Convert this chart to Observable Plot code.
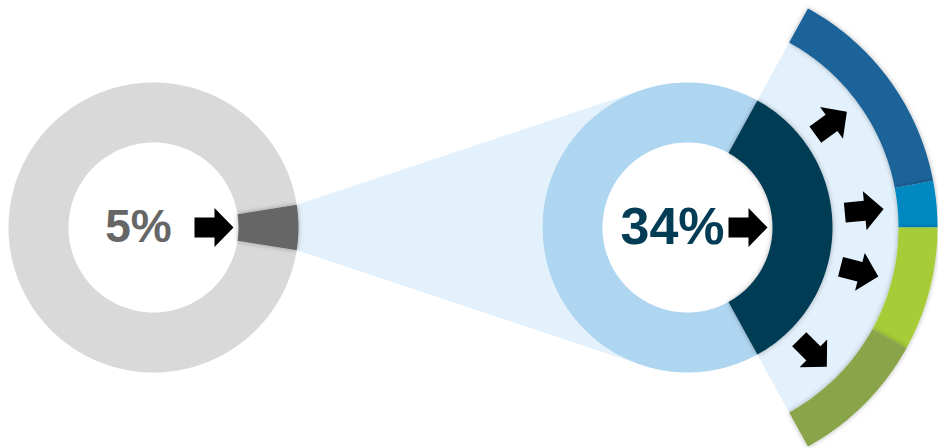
<!DOCTYPE html>
<html>
<head>
<meta charset="utf-8">
<script src="https://cdn.jsdelivr.net/npm/d3@7"></script>
<script src="https://cdn.jsdelivr.net/npm/@observablehq/plot@0.6"></script>
<style>
  html, body { margin: 0; padding: 0; background: #ffffff; }
  #chart svg { display: block; }
</style>
</head>
<body>
<div id="chart"></div>
<script>
// ---- data ----
const donutNames = ["All", "Subset"];
const donutShares = [5, 34];          // percent highlighted in each donut
const donutLabels = ["5%", "34%"];
const breakdownShares = [14, 3, 8, 9]; // split of the 34% highlighted share

// ---- styles / layout (not data) ----
const W = 938, H = 448;
const centers = [{cx: 153, cy: 227}, {cx: 687, cy: 227}];
const rIn = 85, rOut = 145, ringIn = 211, ringOut = 250;
const arrowR = 61, ringArrowR = 178;
const ringColors = ["#1A639A", "#0088C1", "#A6CD39", "#8AA44A"];
const baseColors = ["#D9D9D9", "#AFD6F1"];
const sliceColors = ["#666666", "#033C55"];
const labelColors = ["#666666", "#033C55"];
const labelSizes = [46, 52];
const fanColor = "#E3F1FC";

const rad = Math.PI / 180;
function pt(c, r, a) { return {x: c.cx + r * Math.cos(a * rad), y: c.cy - r * Math.sin(a * rad)}; }
function sector(c, r0, r1, a0, a1) {
  const pts = [];
  const n = Math.max(2, Math.ceil(Math.abs(a1 - a0)));
  for (let i = 0; i <= n; i++) pts.push(pt(c, r1, a0 + (a1 - a0) * i / n));
  for (let i = n; i >= 0; i--) pts.push(pt(c, r0, a0 + (a1 - a0) * i / n));
  return pts;
}
function arrow(ax, ay, theta) {
  const shape = [[-20, -10], [0, -10], [0, -19.5], [19, 0], [0, 19.5], [0, 10], [-20, 10]];
  const c = Math.cos(theta * rad), s = Math.sin(theta * rad);
  return shape.map(([lx, ly]) => ({x: ax + lx * c - ly * s, y: ay - (lx * s + ly * c)}));
}

const shapes = []; // {pts, fill, shadow}
const half = donutShares.map(p => p / 100 * 180);

// fan connecting left slice to right donut (tangent lines)
{
  const L = centers[0], R = centers[1];
  const pTop = pt(L, rOut, half[0]), pBot = pt(L, rOut, -half[0]);
  function tangent(P, sign) {
    const vx = R.cx - P.x, vy = R.cy - P.y, d = Math.hypot(vx, vy);
    const beta = Math.asin(rOut / d);
    const phi = Math.atan2(vy, vx) + sign * beta;
    const len = Math.sqrt(d * d - rOut * rOut);
    const T = {x: P.x + len * Math.cos(phi), y: P.y + len * Math.sin(phi)};
    return {T, ang: Math.atan2(-(T.y - R.cy), T.x - R.cx) / rad};
  }
  const top = tangent(pTop, -1), bot = tangent(pBot, 1);
  let aT = top.ang, aB = bot.ang;
  while (aB < aT) aB += 360;
  const pts = [pTop, top.T];
  for (let a = aT; a <= aB; a += 1) pts.push(pt(R, rOut, a));
  pts.push(bot.T, pBot);
  shapes.push({pts, fill: fanColor, shadow: false});
}
// wedge behind the breakdown ring
shapes.push({pts: sector(centers[1], rOut, ringIn, -half[1], half[1]), fill: fanColor, shadow: false});

// donuts
donutShares.forEach((p, i) => {
  const c = centers[i];
  shapes.push({pts: sector(c, rIn, rOut, half[i], 360 - half[i]), fill: baseColors[i], shadow: false});
  shapes.push({pts: sector(c, rIn, rOut, -half[i], half[i]), fill: sliceColors[i], shadow: true});
});

// breakdown ring
const total = d3.sum(breakdownShares);
let acc = half[1];
const mids = [];
breakdownShares.forEach((v, i) => {
  const span = v / total * 2 * half[1];
  shapes.push({pts: sector(centers[1], ringIn, ringOut, acc - span, acc), fill: ringColors[i], shadow: true});
  mids.push(acc - span / 2);
  acc -= span;
});

// arrows
const arrows = [];
donutShares.forEach((p, i) => arrows.push(arrow(centers[i].cx + arrowR, centers[i].cy, 0)));
mids.forEach(a => { const q = pt(centers[1], ringArrowR, a); arrows.push(arrow(q.x, q.y, a)); });

const marks = [];
shapes.forEach(s => marks.push(Plot.line(s.pts, {x: "x", y: "y", fill: s.fill, stroke: "none", ariaDescription: s.shadow ? "shadowed" : "flat"})));
arrows.forEach(a => marks.push(Plot.line(a, {x: "x", y: "y", fill: "#000000", stroke: "none"})));
donutLabels.forEach((t, i) => {
  marks.push(Plot.text([{x: centers[i].cx - 15, y: centers[i].cy, t}], {
    x: "x", y: "y", text: "t", fill: labelColors[i], fontSize: labelSizes[i], fontWeight: "bold",
    fontFamily: "Liberation Sans, Arial, sans-serif", textAnchor: "middle", lineAnchor: "middle"
  }));
});

const svg = Plot.plot({
  width: W, height: H, margin: 0,
  x: {domain: [0, W], range: [0, W], axis: null},
  y: {domain: [0, H], range: [0, H], axis: null},
  marks
});
const sel = d3.select(svg);
const defs = sel.insert("defs", ":first-child");
const f = defs.append("filter").attr("id", "softshadow").attr("x", "-20%").attr("y", "-20%").attr("width", "140%").attr("height", "140%");
f.append("feDropShadow").attr("dx", 0).attr("dy", 0).attr("stdDeviation", 2.5).attr("flood-color", "#000").attr("flood-opacity", 0.3);
sel.selectAll('g[aria-description="shadowed"]').attr("filter", "url(#softshadow)");
document.getElementById("chart").appendChild(svg);
</script>
</body>
</html>
